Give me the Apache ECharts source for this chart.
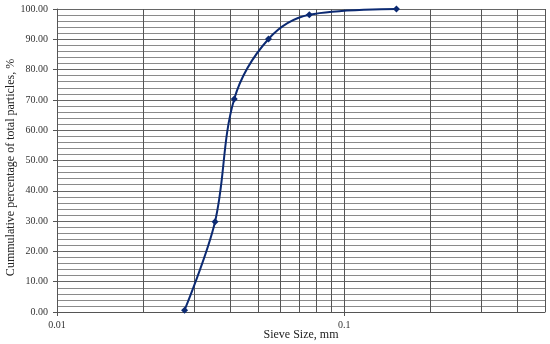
<!DOCTYPE html>
<html>
<head>
<meta charset="utf-8">
<script src="https://cdn.jsdelivr.net/npm/echarts@6/dist/echarts.min.js"></script>
<style>
html,body{margin:0;padding:0;background:#fff;}
#chart{width:550px;height:344px;}
</style>
</head>
<body>
<div id="chart"></div>
<script>
// Data
var sieveSizes = [0.0278, 0.0355, 0.0414, 0.0545, 0.0756, 0.152];
var cumPercent = [0.6, 29.8, 70.3, 90.1, 98.1, 100];
var xGridValues = [0.02, 0.03, 0.04, 0.05, 0.06, 0.07, 0.08, 0.09, 0.2, 0.3, 0.4, 0.5];
var xAxisTitle = 'Sieve Size, mm';
var yAxisTitle = 'Cummulative percentage of total particles, %';

var points = sieveSizes.map(function (x, i) { return [x, cumPercent[i]]; });
var font = '"Liberation Serif", "Times New Roman", serif';

var chart = echarts.init(document.getElementById('chart'), null, {renderer: 'canvas'});
chart.setOption({
  animation: false,
  grid: {left: 57, right: 5, top: 9, bottom: 32, containLabel: false, outerBoundsMode: 'none'},
  xAxis: {
    type: 'log',
    logBase: 10,
    min: 0.01,
    max: 0.5,
    name: xAxisTitle,
    nameLocation: 'middle',
    nameGap: 17,
    nameMoveOverlap: false,
    nameTextStyle: {fontFamily: font, fontSize: 12, color: '#222'},
    axisLine: {show: true, onZero: false, lineStyle: {color: '#555', width: 1}},
    axisTick: {show: true, length: 4, lineStyle: {color: '#555'}},
    axisLabel: {fontFamily: font, fontSize: 10, color: '#333', margin: 8, showMaxLabel: false,
      formatter: function (v) { return String(+(+v).toPrecision(3)); }},
    splitLine: {show: true, lineStyle: {color: '#555', width: 1}},
    minorTick: {show: false},
    minorSplitLine: {show: false}
  },
  yAxis: {
    type: 'value',
    min: 0,
    max: 100,
    interval: 10,
    name: yAxisTitle,
    nameLocation: 'middle',
    nameGap: 40,
    nameMoveOverlap: false,
    nameRotate: 90,
    nameTextStyle: {fontFamily: font, fontSize: 12, color: '#222', padding: [0, 14, 0, 0]},
    axisLine: {show: true, lineStyle: {color: '#555', width: 1}},
    axisTick: {show: true, length: 4, lineStyle: {color: '#555'}},
    axisLabel: {fontFamily: font, fontSize: 10, color: '#333', margin: 9,
      formatter: function (v) { return v.toFixed(2); }},
    splitLine: {show: true, lineStyle: {color: '#666', width: 1}},
    minorTick: {show: false, splitNumber: 5},
    minorSplitLine: {show: true, lineStyle: {color: '#8a8a8a', width: 1}}
  },
  series: [{
    type: 'line',
    data: points,
    smooth: 0.35,
    symbol: 'diamond',
    symbolSize: 7,
    lineStyle: {color: '#0c2a72', width: 2},
    itemStyle: {color: '#0c2a72'},
    z: 5,
    markLine: {
      silent: true,
      symbol: ['none', 'none'],
      label: {show: false},
      lineStyle: {color: '#555', width: 1, type: 'solid'},
      animation: false,
      data: xGridValues.map(function (v) { return {xAxis: v}; })
    }
  }]
});
</script>
</body>
</html>
